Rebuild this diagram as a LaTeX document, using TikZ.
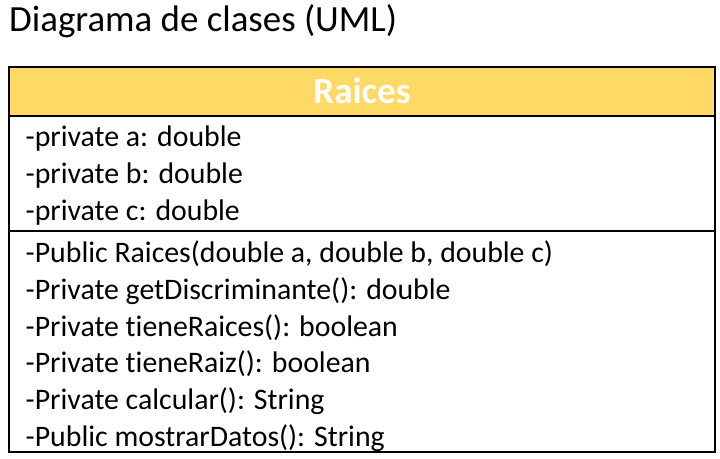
\documentclass[tikz,border=0pt]{standalone}
\usepackage{fontspec}
\setmainfont{Carlito}[Ligatures={NoCommon}]
\definecolor{hdr}{HTML}{FFD966}
\begin{document}
\begin{tikzpicture}[x=1pt,y=-1pt,
  member/.style={anchor=base west,inner sep=0pt,font=\fontsize{29.8}{36}\selectfont},
  frame/.style={draw=black,line width=2pt}]
\useasboundingbox (0,0) rectangle (720,458);
\node[anchor=base west,inner sep=0pt,font=\fontsize{36.9}{44}\selectfont] (title) at (9,31) {Diagrama de clases (UML)};
\fill[hdr] (9,67) rectangle (715,116);
\draw[frame] (9,67) rectangle (715,451.5);
\draw[frame] (9,116) -- (715,116);
\draw[frame] (9,231) -- (715,231);
\node[anchor=base,inner sep=0pt,text=white,font=\fontsize{37}{44}\selectfont\bfseries] (cls) at (362,103.5) {Raices};
\node[member] (a1) at (25.5,146) {-private a: double};
\node[member] (a2) at (25.5,183) {-private b: double};
\node[member] (a3) at (25.5,220) {-private c: double};
\node[member] (m1) at (25.5,262) {-Public Raices(double a, double b, double c)};
\node[member] (m2) at (25.5,299) {-Private getDiscriminante(): double};
\node[member] (m3) at (25.5,336) {-Private tieneRaices(): boolean};
\node[member] (m4) at (25.5,372.5) {-Private tieneRaiz(): boolean};
\node[member] (m5) at (25.5,409) {-Private calcular(): String};
\node[member] (m6) at (25.5,446) {-Public mostrarDatos(): String};
\end{tikzpicture}
\end{document}
